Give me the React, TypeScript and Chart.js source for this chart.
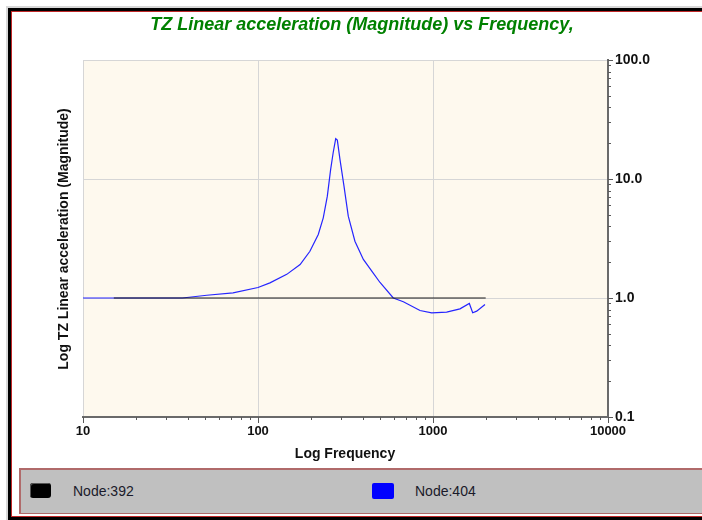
import React, { useEffect, useRef } from "react";
import { Chart, registerables } from "chart.js";

Chart.register(...registerables);

const TITLE = "TZ Linear acceleration (Magnitude) vs Frequency,";
const X_TITLE = "Log Frequency";
const Y_TITLE = "Log TZ Linear acceleration (Magnitude)";

const xTickValues = [10, 100, 1000, 10000];
const yTickValues = [0.1, 1, 10, 100];

const seriesNames = ["Node:392", "Node:404"];
const seriesColors = ["#000000", "#0000ff"];

const freq392 = [15, 2000];
const mag392 = [1.0, 1.0];

const freq404 = [10, 37, 51, 72, 100, 117, 146, 174, 198, 221, 236, 249, 260, 269, 278, 284, 294, 310, 328, 358, 400, 447, 498, 593, 677, 843, 983, 1197, 1426, 1613, 1686, 1777, 1982];
const mag404 = [1.0, 1.0, 1.055, 1.106, 1.225, 1.34, 1.58, 1.91, 2.47, 3.42, 4.72, 7.17, 12.0, 16.7, 21.8, 21.2, 14.6, 8.7, 4.87, 3.0, 2.11, 1.68, 1.35, 1.0, 0.93, 0.785, 0.751, 0.76, 0.811, 0.9, 0.751, 0.775, 0.882];

const FONT = '"Liberation Sans", Arial, sans-serif';

const decorPlugin = {
  id: "decor",
  beforeDraw(chart: any) {
    const { ctx, chartArea: a } = chart;
    ctx.save();
    ctx.fillStyle = "#fef9ee";
    ctx.fillRect(a.left, a.top, a.right - a.left, a.bottom - a.top);
    ctx.restore();
  },
  afterDraw(chart: any) {
    const { ctx, chartArea: a } = chart;
    const xs = chart.scales.x;
    const ys = chart.scales.y;
    ctx.save();
    ctx.strokeStyle = "#5a5a5a";
    ctx.lineWidth = 1;
    // x minor/major ticks
    for (let d = 10; d <= 10000; d *= 10) {
      for (let k = 1; k <= 9; k++) {
        const v = d * k;
        if (v > 10000) break;
        const px = Math.round(xs.getPixelForValue(v)) + 0.5;
        const len = k === 1 ? 6 : 3;
        ctx.beginPath();
        ctx.moveTo(px, a.bottom);
        ctx.lineTo(px, a.bottom + len);
        ctx.stroke();
      }
    }
    for (let d = 0.1; d <= 100.0001; d *= 10) {
      for (let k = 1; k <= 9; k++) {
        const v = d * k;
        if (v > 100.0001) break;
        const py = Math.round(ys.getPixelForValue(v)) + 0.5;
        const len = k === 1 ? 5 : 3;
        ctx.beginPath();
        ctx.moveTo(a.right, py);
        ctx.lineTo(a.right + len, py);
        ctx.stroke();
      }
    }
    // title
    ctx.fillStyle = "#008000";
    ctx.font = `italic bold 18px ${FONT}`;
    ctx.textAlign = "center";
    ctx.textBaseline = "middle";
    ctx.fillText(TITLE, 362, 25);
    // x title
    ctx.fillStyle = "#111111";
    ctx.font = `bold 14px ${FONT}`;
    ctx.fillText(X_TITLE, 345, 454);
    // y title
    ctx.translate(64, 239);
    ctx.rotate(-Math.PI / 2);
    ctx.font = `bold 14px ${FONT}`;
    ctx.fillText(Y_TITLE, 0, 0);
    ctx.restore();
  },
};

export default function App() {
  const ref = useRef<HTMLCanvasElement | null>(null);

  useEffect(() => {
    if (!ref.current) return;
    const chart = new Chart(ref.current, {
      type: "line",
      data: {
        datasets: [
          {
            label: seriesNames[0],
            data: freq392.map((f, i) => ({ x: f, y: mag392[i] })),
            borderColor: "#1a1a1a",
            borderWidth: 1.2,
            pointRadius: 0,
            tension: 0,
          },
          {
            label: seriesNames[1],
            data: freq404.map((f, i) => ({ x: f, y: mag404[i] })),
            borderColor: "#2525ff",
            borderWidth: 1.2,
            pointRadius: 0,
            tension: 0,
          },
        ],
      },
      options: {
        responsive: false,
        animation: false,
        devicePixelRatio: 1,
        layout: { padding: { left: 83, top: 60, right: 0, bottom: 0 } },
        plugins: {
          legend: { display: false },
          title: { display: false },
          tooltip: { enabled: false },
        },
        scales: {
          x: {
            type: "logarithmic",
            position: "bottom",
            min: 10,
            max: 10000,
            afterBuildTicks: (s: any) => {
              s.ticks = xTickValues.map((v) => ({ value: v }));
            },
            afterFit: (s: any) => {
              s.height = 49;
            },
            ticks: {
              autoSkip: false,
              maxRotation: 0,
              padding: 7,
              color: "#111111",
              font: { family: FONT, size: 13, weight: "bold" },
              callback: (v: any) => String(v),
            },
            grid: { color: "#d6d6d6", drawTicks: false, lineWidth: 1 },
            border: { color: "#6a6a6a", width: 2 },
          },
          y: {
            type: "logarithmic",
            position: "right",
            min: 0.1,
            max: 100,
            afterBuildTicks: (s: any) => {
              s.ticks = yTickValues.map((v) => ({ value: v }));
            },
            afterFit: (s: any) => {
              s.width = 94;
            },
            ticks: {
              autoSkip: false,
              padding: 7,
              color: "#111111",
              font: { family: FONT, size: 14, weight: "bold" },
              callback: (v: any) => Number(v).toFixed(1),
            },
            grid: { color: "#d6d6d6", drawTicks: false, lineWidth: 1 },
            border: { color: "#6a6a6a", width: 2 },
          },
        },
      },
      plugins: [decorPlugin],
    } as any);
    return () => chart.destroy();
  }, []);

  const legendText: React.CSSProperties = {
    position: "absolute",
    top: 483,
    height: 16,
    lineHeight: "16px",
    fontFamily: FONT,
    fontSize: 14,
    color: "#1a1a2a",
    whiteSpace: "nowrap",
  };

  return (
    <div style={{ position: "fixed", left: 0, top: 0, width: 702, height: 520, background: "#ffffff", overflow: "hidden" }}>
      {/* frame lines */}
      <div style={{ position: "absolute", left: 6, top: 6, width: 2, height: 520, background: "#d8d8d8" }} />
      <div style={{ position: "absolute", left: 6, top: 6, width: 702, height: 2, background: "#d8d8d8" }} />
      <div style={{ position: "absolute", left: 8, top: 8, width: 3, height: 512, background: "#000" }} />
      <div style={{ position: "absolute", left: 8, top: 8, width: 702, height: 3, background: "#000" }} />
      <div style={{ position: "absolute", left: 11, top: 11, width: 1, height: 506, background: "#c02828" }} />
      <div style={{ position: "absolute", left: 11, top: 11, width: 702, height: 1, background: "#c02828" }} />
      <div style={{ position: "absolute", left: 11, top: 516, width: 702, height: 1, background: "#c02828" }} />
      <div style={{ position: "absolute", left: 8, top: 517, width: 702, height: 3, background: "#000" }} />
      {/* legend band */}
      <div
        style={{
          position: "absolute",
          left: 19,
          top: 468,
          width: 700,
          height: 46,
          boxSizing: "border-box",
          background: "#c0c0c0",
          borderTop: "2px solid #b06a6a",
          borderLeft: "2px solid #b06a6a",
          borderBottom: "1px solid #b06a6a",
        }}
      />
      <div style={{ position: "absolute", left: 30, top: 483, width: 21, height: 15, background: seriesColors[0], borderRadius: 3, boxShadow: "inset 1px 1px 0 #555" }} />
      <div style={{ ...legendText, left: 73 }}>{seriesNames[0]}</div>
      <div style={{ position: "absolute", left: 372, top: 483, width: 22, height: 16, background: seriesColors[1], borderRadius: 2 }} />
      <div style={{ ...legendText, left: 415 }}>{seriesNames[1]}</div>
      <canvas ref={ref} width={702} height={466} style={{ position: "absolute", left: 0, top: 0, width: 702, height: 466 }} />
    </div>
  );
}
